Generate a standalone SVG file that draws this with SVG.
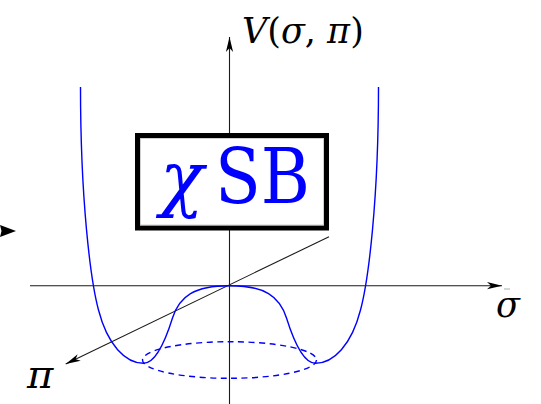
<svg xmlns="http://www.w3.org/2000/svg" width="541" height="404" viewBox="0 0 541 404">
<style>
.ax{stroke:#1a1a1a;stroke-width:1.1;fill:none}
.pot{stroke:#0000ff;stroke-width:1.4;fill:none}
.dash{stroke:#0000ff;stroke-width:1.4;fill:none;stroke-dasharray:6 4.5}
text{font-family:"DejaVu Serif",serif}
</style>
<defs>
<marker id="arr" markerUnits="userSpaceOnUse" markerWidth="17" markerHeight="9" viewBox="-16 -4.5 17 9" refX="0" refY="0" orient="auto">
<path d="M0,0 L-15,-3.6 L-11,0 L-15,3.6 Z" fill="#000"/>
</marker>
</defs>
<rect width="541" height="404" fill="#fff"/>
<g id="connectors">
<line class="ax" x1="30" y1="285.7" x2="502" y2="285.7" marker-end="url(#arr)"/>
<line class="ax" x1="229.5" y1="404" x2="229.5" y2="37" marker-end="url(#arr)"/>
<line class="ax" x1="329" y1="236.7" x2="65.7" y2="364" marker-end="url(#arr)"/>
<line x1="504" y1="289" x2="510" y2="289" stroke="#999" stroke-width="0.8"/>
<path d="M0,225 L16,231 L0,237 L1.5,231 Z" fill="#000"/>
</g>
<g id="potential">
<ellipse class="dash" cx="229.5" cy="360" rx="87" ry="18.3"/>
<path class="pot" d="M80.5,87 C80.5,200 90.5,280 98.5,310 C107.5,345 125.5,363.3 143.5,363.3 C157.5,363.3 167.5,334 172.5,318 C179.5,296 194.5,285.7 229.5,285.7 C264.5,285.7 279.5,296 286.5,318 C291.5,334 301.5,363.3 315.5,363.3 C333.5,363.3 351.5,345 360.5,310 C368.5,280 378.5,200 378.5,87"/>
</g>
<g id="box">
<rect x="137.5" y="135.5" width="189" height="92.5" fill="#fff" stroke="#000" stroke-width="5"/>
<rect x="140.5" y="138.5" width="183" height="86.5" fill="none" stroke="#bbb" stroke-width="0.7"/>
<text x="160" y="203" font-style="italic" font-size="72" fill="#0000ff">χ</text>
<text x="215" y="203" font-size="77" textLength="95" lengthAdjust="spacingAndGlyphs" fill="#0000ff">SB</text>
</g>
<g id="labels" fill="#000">
<text x="242" y="43" font-size="35"><tspan font-style="italic">V</tspan>(<tspan font-style="italic">σ</tspan>, <tspan font-style="italic">π</tspan>)</text>
<text font-style="italic" x="496" y="317" font-size="35">σ</text>
<text font-style="italic" x="27" y="388" font-size="40">π</text>
</g>
</svg>
